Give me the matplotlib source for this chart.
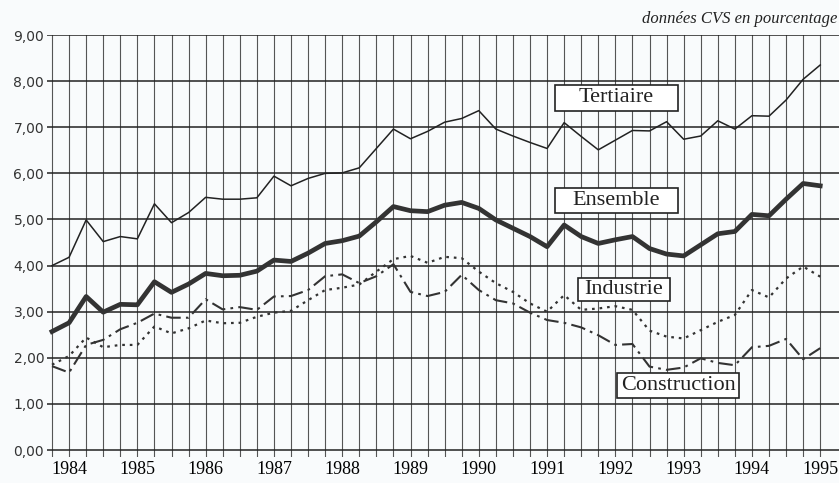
import numpy as np
import matplotlib
matplotlib.use("Agg")
import matplotlib.pyplot as plt
from matplotlib.patches import Rectangle

# quarterly series, 1983 T4 -> 1995 T1 (46 points)
tertiaire = [4.00, 4.18, 4.99, 4.52, 4.63, 4.58, 5.34, 4.93, 5.15, 5.48,
             5.44, 5.44, 5.47, 5.94, 5.73, 5.89, 6.00, 6.01, 6.12, 6.54,
             6.96, 6.75, 6.91, 7.11, 7.19, 7.36, 6.96, 6.81, 6.67, 6.54,
             7.10, 6.80, 6.51, 6.72, 6.93, 6.92, 7.12, 6.74, 6.81, 7.14,
             6.96, 7.25, 7.24, 7.59, 8.04, 8.35]
ensemble = [2.57, 2.76, 3.33, 2.99, 3.16, 3.15, 3.65, 3.42, 3.60, 3.83,
            3.78, 3.79, 3.88, 4.12, 4.09, 4.27, 4.48, 4.54, 4.64, 4.95,
            5.28, 5.19, 5.17, 5.31, 5.37, 5.24, 4.99, 4.81, 4.63, 4.41,
            4.88, 4.63, 4.48, 4.56, 4.63, 4.37, 4.25, 4.21, 4.45, 4.69,
            4.74, 5.11, 5.08, 5.44, 5.78, 5.73]
industrie = [1.85, 2.04, 2.44, 2.23, 2.28, 2.28, 2.68, 2.53, 2.64, 2.81,
             2.75, 2.76, 2.89, 2.98, 3.02, 3.25, 3.47, 3.52, 3.59, 3.87,
             4.14, 4.21, 4.06, 4.19, 4.16, 3.87, 3.62, 3.43, 3.18, 3.00,
             3.36, 3.04, 3.07, 3.12, 3.04, 2.59, 2.46, 2.42, 2.60, 2.78,
             2.93, 3.47, 3.31, 3.72, 3.98, 3.76]
construction = [1.82, 1.68, 2.28, 2.39, 2.62, 2.76, 2.96, 2.87, 2.87, 3.27,
                3.05, 3.10, 3.04, 3.33, 3.34, 3.47, 3.77, 3.81, 3.62, 3.77,
                4.03, 3.43, 3.34, 3.43, 3.80, 3.47, 3.25, 3.18, 2.98, 2.82,
                2.76, 2.66, 2.49, 2.28, 2.30, 1.81, 1.74, 1.79, 1.99, 1.89,
                1.84, 2.23, 2.26, 2.41, 1.97, 2.21]
years = list(range(1984, 1996))

x = np.arange(len(tertiaire))
bg = "#f9fbfc"

fig = plt.figure(figsize=(8.39, 4.83), dpi=100, facecolor=bg)
ax = fig.add_axes([47 / 839, 26 / 483, 792 / 839, 422 / 483], facecolor=bg)

ax.plot(x, tertiaire, color="#222222", lw=1.1, zorder=3)
ax.plot(x, ensemble, color="#333333", lw=3.4, zorder=3)
ax.plot(x, industrie, color="#333333", lw=1.6, ls=(0, (1.2, 2.2)), zorder=3)
ax.plot(x, construction, color="#333333", lw=1.5, ls=(0, (7, 2.5, 1.3, 2.5)), zorder=3)

ax.set_xlim(-0.293, 46.1)
ax.set_ylim(-0.15, 9.0)

ticks = list(range(len(x)))
labels = [""] * len(x)
for k, yr in enumerate(years):
    labels[1 + 4 * k] = str(yr)
ax.set_xticks(ticks)
ax.set_xticklabels(labels, family="Liberation Serif", fontsize=13)
ax.set_yticks(range(10))
ax.set_yticklabels([f"{v:.2f}".replace(".", ",") for v in range(10)],
                   family="DejaVu Sans", fontsize=10, color="#333333")
ax.tick_params(axis="both", length=0)
ax.tick_params(axis="x", pad=3)
ax.tick_params(axis="y", pad=2)
ax.xaxis.grid(True, color="#555555", lw=0.8)
ax.yaxis.grid(True, color="#222222", lw=1.1)
ax.set_axisbelow(True)
for s in ax.spines.values():
    s.set_visible(False)

# label boxes
def box(x0, x1, y0, y1, txt):
    ax.add_patch(Rectangle((x0, y0), x1 - x0, y1 - y0, facecolor="white",
                           edgecolor="#222222", lw=1.2, zorder=4))
    ax.text((x0 + x1) / 2, (y0 + y1) / 2, txt, ha="center", va="center",
            family="Liberation Serif", fontsize=16, color="#222222", zorder=5)

box(29.47, 36.67, 7.35, 7.92, "Tertiaire")
box(29.47, 36.67, 5.14, 5.68, "Ensemble")
box(30.81, 36.2, 3.23, 3.73, "Industrie")
box(33.1, 40.25, 1.13, 1.67, "Construction")

fig.text(837 / 839, 1 - 19 / 483, "données CVS en pourcentage", ha="right",
         va="center", family="Liberation Serif", style="italic", fontsize=12,
         color="#222222")

fig.savefig("out.png", dpi=100, facecolor=bg)
